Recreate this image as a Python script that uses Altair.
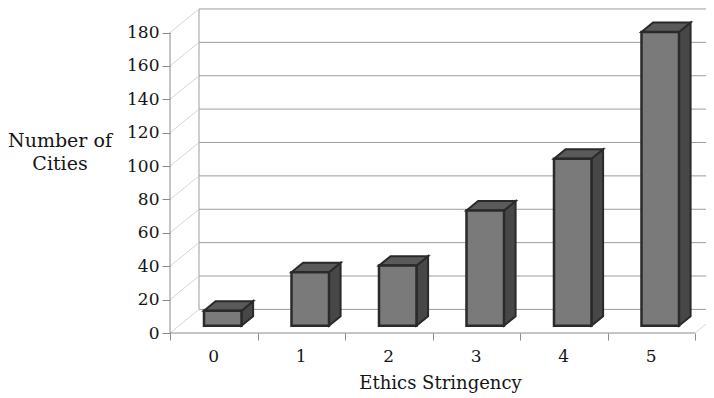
import altair as alt
import pandas as pd

# ---- data ----
categories = ["0", "1", "2", "3", "4", "5"]
num_cities = [9, 32, 36, 69, 100, 176]
y_ticks = [0, 20, 40, 60, 80, 100, 120, 140, 160, 180]
x_title = "Ethics Stringency"
y_title = ["Number of", "Cities"]

# ---- layout / style constants ----
W, H = 536, 325
PX_PER_CAT = 87.5
PX_PER_UNIT = 1.669
X_MIN = -0.5
X_MAX = X_MIN + W / PX_PER_CAT
Y_MAX = H / PX_PER_UNIT
DX = 29 / PX_PER_CAT          # full floor depth in x units
DY = 23.6 / PX_PER_UNIT       # full floor depth in y units
BAR_W = 37.5 / PX_PER_CAT
F1, F2 = 0.31, 0.71           # bar front/back depth fractions
FONT = "DejaVu Serif"
TXT = "#151515"
n = len(categories)
x_end = n - 0.5

xs = alt.Scale(domain=[X_MIN, X_MAX], nice=False, zero=False)
ys = alt.Scale(domain=[0, Y_MAX], nice=False, zero=False)

xaxis = alt.Axis(values=[i - 0.5 for i in range(n + 1)], labels=False, ticks=True,
                 tickSize=7, tickColor="#8a8a8a", domain=False, grid=False,
                 title=x_title, titleFont=FONT, titleFontSize=18, titleFontWeight="normal",
                 titleColor=TXT, titleX=270, titleY=55, titleAlign="center",
                 titleBaseline="alphabetic")
yaxis = alt.Axis(values=y_ticks, tickSize=8, tickColor="#8a8a8a", domain=False, grid=False,
                 labelFont=FONT, labelFontSize=17, labelColor=TXT, labelPadding=3,
                 title=y_title, titleFont=FONT, titleFontSize=19, titleFontWeight="normal",
                 titleColor=TXT, titleAngle=0, titleAlign="center", titleBaseline="alphabetic",
                 titleX=-110.5, titleY=138, titleLineHeight=23)


def X(f):
    return alt.X(f, type="quantitative", scale=xs, axis=xaxis)


def Y(f):
    return alt.Y(f, type="quantitative", scale=ys, axis=yaxis, stack=False)


# back wall grid lines
grid_df = pd.DataFrame({"x": X_MIN + DX, "x2": X_MAX, "y": [v + DY for v in y_ticks]})
grid = alt.Chart(grid_df).mark_rule(color="#9c9c9c", strokeWidth=1).encode(
    x=X("x"), x2="x2", y=Y("y"))

# back wall left edge
wall_df = pd.DataFrame({"x": [X_MIN + DX], "y": [y_ticks[0] + DY], "y2": [y_ticks[-1] + DY]})
wall = alt.Chart(wall_df).mark_rule(color="#9c9c9c", strokeWidth=1).encode(
    x=X("x"), y=Y("y"), y2="y2")

# side-wall diagonals and floor right edge
diag_df = pd.DataFrame({
    "x": [X_MIN] * len(y_ticks) + [x_end],
    "x2": [X_MIN + DX] * len(y_ticks) + [x_end + DX],
    "y": y_ticks + [0],
    "y2": [v + DY for v in y_ticks] + [DY],
})
diag = alt.Chart(diag_df).mark_rule(color="#d6d6d6", strokeWidth=1, clip=True).encode(
    x=X("x"), x2="x2", y=Y("y"), y2="y2")

# front axis lines
yline_df = pd.DataFrame({"x": [X_MIN], "y": [0], "y2": [y_ticks[-1]]})
yline = alt.Chart(yline_df).mark_rule(color="#8a8a8a", strokeWidth=1).encode(
    x=X("x"), y=Y("y"), y2="y2")
xline_df = pd.DataFrame({"x": [X_MIN], "x2": [x_end], "y": [0]})
xline = alt.Chart(xline_df).mark_rule(color="#8a8a8a", strokeWidth=1).encode(
    x=X("x"), x2="x2", y=Y("y"))

# bars
front_rows, top_rows, side_rows = [], [], []
ddx = (F2 - F1) * DX
for i, v in enumerate(num_cities):
    a = i - BAR_W / 2 + F1 * DX
    b = a + BAR_W
    yf0, yb0 = F1 * DY, F2 * DY
    yft, ybt = v + F1 * DY, v + F2 * DY
    front_rows.append({"bar": i, "x": a, "x2": b, "y": yf0, "y2": yft})
    for x, y, y2 in [(a, yft, yft), (a + ddx, ybt, yft), (b, ybt, yft), (b + ddx, ybt, ybt)]:
        top_rows.append({"bar": i, "x": x, "y": y, "y2": y2})
    for x, y, y2 in [(b, yft, yf0), (b + ddx, ybt, yb0)]:
        side_rows.append({"bar": i, "x": x, "y": y, "y2": y2})

STROKE = "#2a2a2a"
side = alt.Chart(pd.DataFrame(side_rows)).mark_area(
    color="#474747", stroke=STROKE, strokeWidth=2, strokeJoin="miter", orient="vertical"
).encode(x=X("x"), y=Y("y"), y2="y2", detail="bar:N")
top = alt.Chart(pd.DataFrame(top_rows)).mark_area(
    color="#5a5a5a", stroke=STROKE, strokeWidth=2, strokeJoin="miter", orient="vertical"
).encode(x=X("x"), y=Y("y"), y2="y2", detail="bar:N")
front = alt.Chart(pd.DataFrame(front_rows)).mark_rect(
    color="#7a7a7a", stroke=STROKE, strokeWidth=2.5
).encode(x=X("x"), x2="x2", y=Y("y"), y2="y2")

# category labels
lab_df = pd.DataFrame({"x": list(range(n)), "y": 0, "label": categories})
labels = alt.Chart(lab_df).mark_text(
    font=FONT, fontSize=17, color=TXT, dy=29, baseline="alphabetic", align="center"
).encode(x=X("x"), y=Y("y"), text="label")

chart = alt.layer(grid, wall, diag, yline, xline, side, top, front, labels).properties(
    width=W, height=H,
    autosize=alt.AutoSizeParams(type="none"),
    padding={"left": 162, "top": 0, "right": 0, "bottom": 61},
    background="white",
).configure_view(stroke=None)

chart.save("out.html", embed_options={"renderer": "svg", "actions": False})
